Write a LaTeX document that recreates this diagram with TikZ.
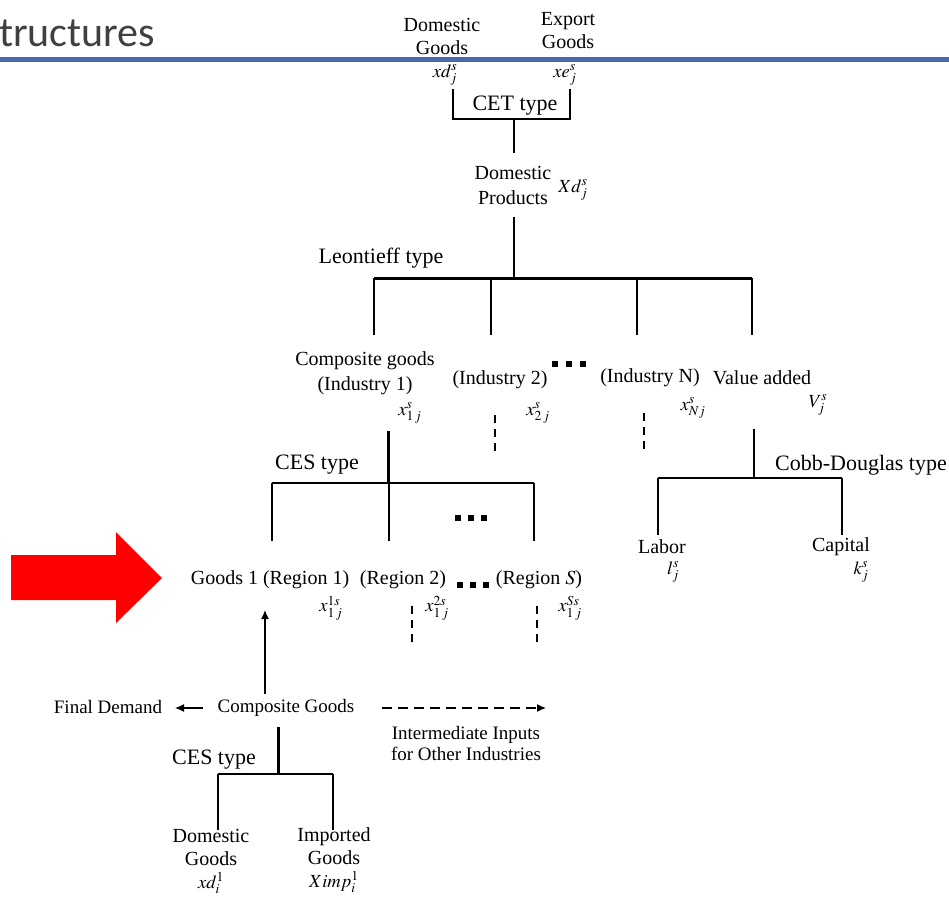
\documentclass[tikz,border=0pt]{standalone}
\usepackage{mathptmx}
\usepackage{fontspec}
\setmainfont{Liberation Serif}
\newfontfamily\titlefont{Carlito}
\usetikzlibrary{arrows.meta}
\definecolor{blueline}{RGB}{72,104,172}
\definecolor{titlegray}{RGB}{64,64,64}
\tikzset{
  lab/.style={font=\fontsize{20}{24}\selectfont, align=center, inner sep=0pt},
  flow/.style={font=\fontsize{19}{21}\selectfont, align=center, inner sep=0pt},
  typ/.style={font=\fontsize{22}{26}\selectfont, inner sep=0pt},
  mth/.style={font=\fontsize{18.5}{20}\selectfont, inner sep=0pt},
  brk/.style={line width=2.6pt},
  dsh/.style={line width=2.4pt, dash pattern=on 8pt off 6pt},
  thinarr/.style={line width=1.3pt, -{Latex[length=9pt,width=8pt]}},
  dot/.style={fill=black}
}
\begin{document}
\begin{tikzpicture}[x=1pt,y=-1pt]
\useasboundingbox (0,0) rectangle (949,897);
% title
\node[anchor=base west, inner sep=0pt, font=\titlefont\fontsize{42}{44}\selectfont, text=titlegray] (title) at (-1,46) {tructures};
\draw[line width=5pt, blueline] (0,59.5) -- (949,59.5);
% top CET
\node[lab, font=\fontsize{20}{23}\selectfont] (dg) at (442,36) {Domestic\\Goods};
\node[lab, font=\fontsize{20}{23}\selectfont] (eg) at (568,31) {Export\\Goods};
\node[mth] (xd) at (445,75) {$xd^{s}_{j}$};
\node[mth] (xe) at (565,75) {$xe^{s}_{j}$};
\coordinate (cetL) at (453,89);
\coordinate (cetR) at (570,89);
\coordinate (cetM) at (514,119);
\node[typ] (cet) at (515,106) {CET type};
\node[lab, font=\fontsize{20}{25}\selectfont] (dp) at (513,185) {Domestic\\Products};
\node[mth] (Xd) at (573,190) {$Xd^{s}_{j}$};
\draw[brk] (cetL) |- (cetR |- cetM) -- (cetR);
\coordinate (dpTop) at (514,153);
\draw[brk] (cetM) -- (dpTop);
% Leontieff
\coordinate (dpBot) at (514,217);
\coordinate (leoM) at (514,278);
\coordinate (leo1) at (374,278);
\coordinate (leo2) at (491,278);
\coordinate (leo3) at (637,278);
\coordinate (leo4) at (752,278);
\node[typ] (leo) at (381,258) {Leontieff type};
\draw[brk] (dpBot) -- (leoM);
\draw[line width=3pt] (leo1) -- (leo4);
\foreach \c in {leo1,leo2,leo3,leo4}{\draw[brk] (\c) -- ++(0,57);}
\node[lab, font=\fontsize{20}{25}\selectfont] (ind1) at (365,373) {Composite goods\\(Industry 1)};
\node[mth] (x1) at (410,413) {$x^{s}_{1\,j}$};
\node[lab] (ind2) at (500,380) {(Industry 2)};
\node[mth] (x2) at (538,413) {$x^{s}_{2\,j}$};
\foreach \xx in {555,569,583}{\fill[dot] (\xx-2.6,361.4) rectangle (\xx+2.6,366.6);}
\node[lab] (indN) at (650,378) {(Industry N)};
\node[mth] (xN) at (693,408) {$x^{s}_{Nj}$};
\node[lab] (va) at (762,378) {Value added};
\node[mth] (V) at (818,405) {$V^{s}_{j}$};
\draw[dsh] (495,415) -- (495,453);
\draw[dsh] (644,413) -- (644,450);
% CES regions
\coordinate (ind1Bot) at (388,431);
\coordinate (cesM) at (388,483);
\coordinate (ces1) at (272,483);
\coordinate (ces2) at (389,483);
\coordinate (ces3) at (534,483);
\node[typ] (ces) at (317,465) {CES type};
\draw[line width=3pt] (ind1Bot) -- (cesM);
\draw[brk] (ces1) -- (ces3);
\foreach \c in {ces1,ces2,ces3}{\draw[brk] (\c) -- ++(0,58);}
\foreach \xx in {458,471,484}{\fill[dot] (\xx-2.6,515.4) rectangle (\xx+2.6,520.6);}
% Cobb-Douglas
\coordinate (vaBot) at (754,429);
\coordinate (cdM) at (754,478);
\coordinate (cdL) at (658,478);
\coordinate (cdR) at (842,478);
\node[typ] (cd) at (861,465) {Cobb-Douglas type};
\draw[brk] (vaBot) -- (cdM);
\draw[brk] (cdL) -- (cdR);
\draw[brk] (cdL) -- ++(0,57);
\draw[brk] (cdR) -- ++(0,57);
\node[lab] (labor) at (662,547) {Labor};
\node[mth] (l) at (673,572) {$l^{s}_{j}$};
\node[lab] (capital) at (841,547) {Capital};
\node[mth] (k) at (861,572) {$k^{s}_{j}$};
% regions
\node[lab] (g1) at (270,580) {Goods 1 (Region 1)};
\node[lab] (r2) at (403,580) {(Region 2)};
\foreach \xx in {460,473,486}{\fill[dot] (\xx-2.6,582.4) rectangle (\xx+2.6,587.6);}
\node[lab] (rS) at (539,580) {(Region $S$)};
\node[mth] (x1s) at (331,608) {$x^{1s}_{1\,j}$};
\node[mth] (x2s) at (437,608) {$x^{2s}_{1\,j}$};
\node[mth] (xSs) at (570,608) {$x^{Ss}_{1\,j}$};
\draw[dsh] (412,606) -- (412,644);
\draw[dsh] (537,606) -- (537,644);
% red arrow
\fill[red] (11,555) -- (116,555) -- (116,532) -- (162,578) -- (116,623) -- (116,600) -- (11,600) -- cycle;
% composite goods flow
\node[flow] (cg) at (286,708) {Composite Goods};
\node[flow] (fd) at (108,707) {Final Demand};
\node[flow] (ii) at (466,743) {Intermediate Inputs\\for Other Industries};
\coordinate (upS) at (265,694);
\coordinate (upE) at (265,610);
\draw[thinarr] (upS) -- (upE);
\coordinate (fdS) at (203,708);
\coordinate (fdE) at (175,708);
\draw[thinarr] (fdS) -- (fdE);
\coordinate (iiS) at (382,708);
\coordinate (iiE) at (546,708);
\draw[line width=1.3pt, dash pattern=on 10pt off 6pt, -{Latex[length=9pt,width=8pt]}] (iiS) -- (iiE);
% bottom CES
\coordinate (cgBot) at (278,727);
\coordinate (bcM) at (278,774);
\coordinate (bcL) at (218,774);
\coordinate (bcR) at (333,774);
\node[typ] (bces) at (214,760) {CES type};
\draw[line width=3pt] (cgBot) -- (bcM);
\draw[brk] (bcL) -- (bcR);
\draw[brk] (bcL) -- ++(0,56);
\draw[brk] (bcR) -- ++(0,56);
\node[lab, font=\fontsize{20}{23}\selectfont, anchor=north] (bdg) at (211,829) {Domestic\\Goods\\{\fontsize{18.5}{20}\selectfont$xd^{1}_{i}$}};
\node[lab, font=\fontsize{20}{23}\selectfont, anchor=north] (big) at (334,827) {Imported\\Goods\\{\fontsize{18.5}{20}\selectfont$Ximp^{1}_{i}$}};
\end{tikzpicture}
\end{document}
